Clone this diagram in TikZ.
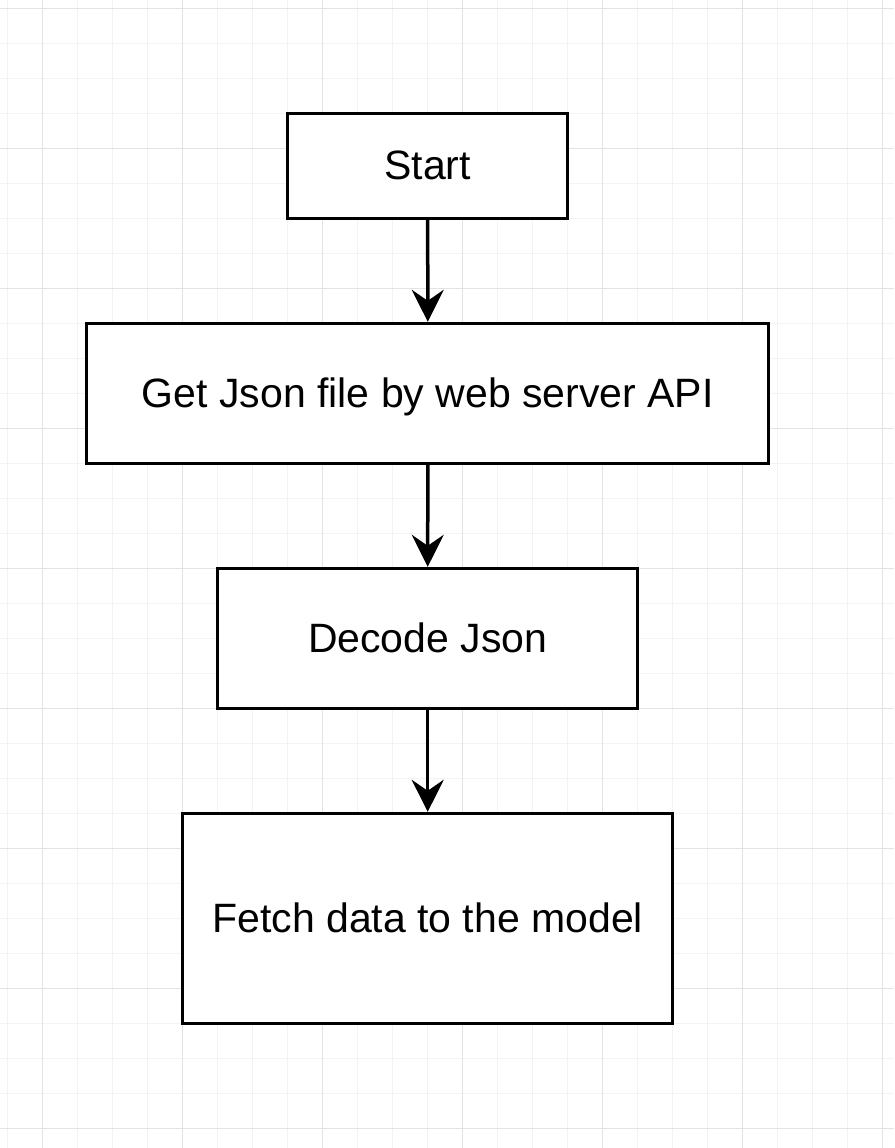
\documentclass[tikz,border=0pt]{standalone}
\usepackage{fontspec}
\setmainfont{Liberation Sans}
\usetikzlibrary{arrows.meta}
\definecolor{gridminor}{HTML}{F3F3F3}
\definecolor{gridmajor}{HTML}{E3E3E3}
\tikzset{
  flowbox/.style={draw=black, line width=3pt, fill=white, rectangle, inner sep=0pt,
    font=\fontsize{41}{49}\selectfont, text height=28pt, text depth=0pt},
  flowarrow/.style={line width=3.5pt, -{Stealth[length=32pt,width=32pt,inset=11pt]}},
  minorline/.style={draw=gridminor, line width=1pt},
  majorline/.style={draw=gridmajor, line width=1.2pt}
}
\begin{document}
\begin{tikzpicture}[x=1pt,y=-1pt]
\useasboundingbox (0,0) rectangle (894,1148);
\fill[white] (0,0) rectangle (894,1148);
% grid
\foreach \k in {0,...,25} {
  \draw[minorline] ({7.7+35*\k},0) -- ({7.7+35*\k},1148);
}
\foreach \k in {0,...,32} {
  \draw[minorline] (0,{8.3+35*\k}) -- (894,{8.3+35*\k});
}
\foreach \k in {0,...,6} {
  \draw[majorline] ({42.7+140*\k},0) -- ({42.7+140*\k},1148);
}
\foreach \k in {0,...,8} {
  \draw[majorline] (0,{8.3+140*\k}) -- (894,{8.3+140*\k});
}
% boxes
\node[flowbox, minimum width=280pt, minimum height=105pt] (start) at (427.7,165.8) {Start};
\node[flowbox, minimum width=682pt, minimum height=140pt] (getjson) at (427.8,393.3) {Get Json file by web server API};
\node[flowbox, minimum width=420pt, minimum height=140pt] (decode) at (427.7,638.3) {Decode Json};
\node[flowbox, minimum width=490pt, minimum height=210pt] (fetch) at (427.7,918.3) {Fetch data to the model};
% arrows
\draw[flowarrow] (start.south) -- (getjson.north);
\draw[flowarrow] (getjson.south) -- (decode.north);
\draw[flowarrow] (decode.south) -- (fetch.north);
\end{tikzpicture}
\end{document}
